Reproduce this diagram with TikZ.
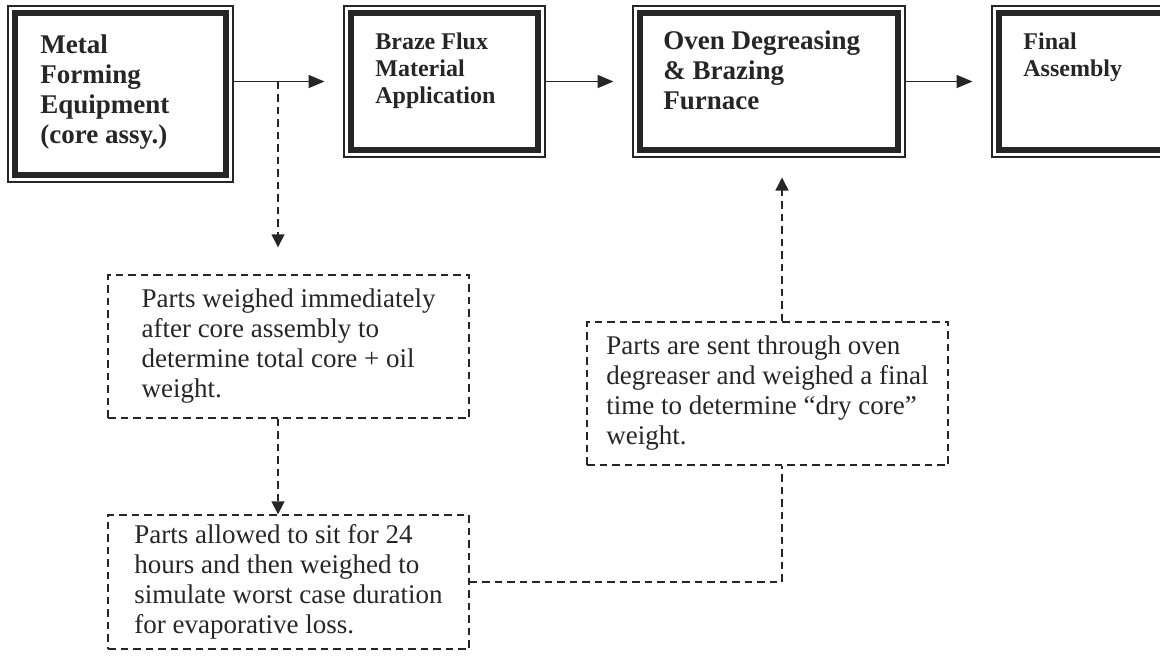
\documentclass[tikz,border=0pt]{standalone}
\usepackage{fontspec}
\setmainfont{Liberation Serif}
\usetikzlibrary{arrows.meta}
\definecolor{ink}{HTML}{262626}

\begin{document}
\begin{tikzpicture}[x=0.5pt, y=-0.5pt,
    frame/.style={draw=ink, line width=3.25pt, inner sep=0pt, outer sep=0pt},
    rim/.style={draw=ink, line width=1pt},
    bigtext/.style={anchor=north west, align=left, inner sep=0pt, text=ink, font=\bfseries\fontsize{13.5pt}{15pt}\selectfont},
    smalltext/.style={anchor=north west, align=left, inner sep=0pt, text=ink, font=\bfseries\fontsize{12pt}{13.5pt}\selectfont},
    note/.style={draw=ink, line width=0.7pt, dash pattern=on 3.75pt off 2.5pt, align=left, minimum width=180.5pt, text=ink, font=\fontsize{13.5pt}{15pt}\selectfont},
    flow/.style={draw=ink, line width=0.9pt, -{Triangle[length=8pt,width=6.5pt]}, shorten <=3.75pt, shorten >=13.25pt},
    dashline/.style={draw=ink, line width=0.7pt, dash pattern=on 3.75pt off 2.5pt},
    tip/.style={-{Triangle[length=6.5pt,width=6.5pt]}}]
\useasboundingbox (0,0) rectangle (1160,660);

% process boxes
\node[frame, minimum width=105.5pt, minimum height=81pt] (forming) at (120.5,94) {};
\node[frame, minimum width=93.5pt, minimum height=68.5pt] (flux) at (444.5,81.5) {};
\node[frame, minimum width=129pt, minimum height=68.5pt] (oven) at (769,81.5) {};
\node[frame, minimum width=91.5pt, minimum height=68.5pt] (final) at (1090.5,81.5) {};
\foreach \b in {forming,flux,oven,final}
  \draw[rim] ([shift={(-7,-7)}]\b.north west) rectangle ([shift={(7,7)}]\b.south east);

\node[bigtext] (formingtext) at (40,34) {Metal\\Forming\\Equipment\\(core assy.)};
\node[smalltext] (fluxtext) at (375,32) {Braze Flux\\Material\\Application};
\node[bigtext] (oventext) at (663,30) {Oven Degreasing\\\& Brazing\\Furnace};
\node[smalltext] (finaltext) at (1023,32) {Final\\Assembly};

\draw[flow] (forming.east |- flux.west) -- (flux.west);
\draw[flow] (flux.east) -- (oven.west);
\draw[flow] (oven.east) -- (final.west);

% weighing steps
\node[note, minimum height=71.5pt] (noteA) at (288.5,346.5) {Parts weighed immediately\\after core assembly to\\determine total core + oil\\weight.};
\node[note, minimum height=67pt] (noteB) at (288.5,582) {Parts allowed to sit for 24\\hours and then weighed to\\simulate worst case duration\\for evaporative loss.};
\node[note, minimum height=71.5pt] (noteC) at (767.5,393.5) {Parts are sent through oven\\degreaser and weighed a final\\time to determine “dry core”\\weight.};

\coordinate (tap) at (278,81.5);
\coordinate (riser) at ([xshift=7.25pt]noteC.center);
\draw[dashline, tip, shorten >=13.5pt] (tap) -- (tap |- noteA.north);
\draw[dashline, tip] (tap |- noteA.south) -- (tap |- noteB.north);
\draw[dashline] (noteB.east) -| (riser |- noteC.south);
\draw[dashline, tip, shorten >=13.75pt] (riser |- noteC.north) -- (riser |- oven.south);
\end{tikzpicture}
\end{document}
